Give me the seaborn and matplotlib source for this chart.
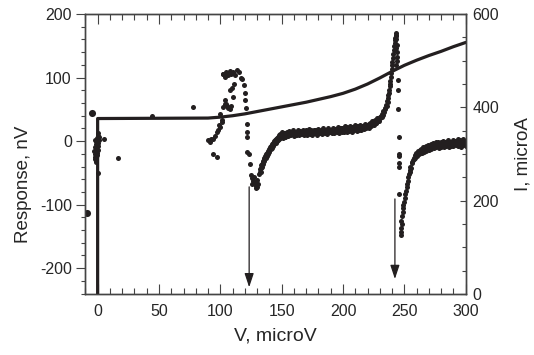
import numpy as np
import pandas as pd
import matplotlib
matplotlib.use("Agg")
import matplotlib.pyplot as plt
from matplotlib.ticker import MultipleLocator
import seaborn as sns

# ---------------- data ----------------
# large isolated dots near V = 0
big_v = [-8.5, -5.0]
big_r = [-113, 44]

# scattered points near V = 0 and in the low-bias region
near0_v = [-3.0, -2.5, -2.0, -1.5, -1.0, -0.5, 0.0, -1.0, -2.0, -1.5, -0.5, 0.5, 1.0, 0.0, 0.5,
           -0.5, -2.5, 1.5, 5.0, 0.0, 16.8, 44.5, 78.0, -1.0, 0.5, -2.0]
near0_r = [-15, -20, -10, -5, 0, 5, -8, -12, -25, -30, -18, -3, 2, 8, 12,
           -22, -28, 6, 3, -50, -27, 39, 54, -33, -14, 2]

# first feature (V ~ 90 .. 132)
f1_v = [90.2, 91.5, 92.5, 94.2, 95.5, 97.0, 98.0, 99.1, 99.7, 101.0, 93.7, 97.0,
        99.7, 101.0, 102.4, 103.7, 105.6, 107.8, 104.5, 106.5, 108.5, 103.7, 102.0, 107.8,
        109.7, 110.5, 111.5, 101.9, 103.5, 105.0, 106.5, 107.8, 109.0, 110.5, 112.0, 113.8,
        115.5, 116.6, 117.4, 119.5, 120.0, 120.0, 120.8, 121.4, 121.4, 121.4, 122.0, 123.3,
        124.0, 125.0, 126.0, 126.8, 127.5, 128.2, 129.0, 129.6, 130.3, 131.0, 125.8, 128.8]
f1_r = [1, -2, 3, 4, 8, 14, 18, 25, 22, 33, -20, -25,
        43, 30, 54, 64, 55, 51, 58, 52, 56, 59, 105, 81,
        83, 70, 90, 105, 101, 108, 104, 110, 106, 108, 104, 112,
        109, 100, 98, 88, 76, 64, 52, 27, 14, 6, -17, -21,
        -36, -54, -58, -62, -56, -66, -70, -61, -73, -67, -68, -74]

# recovery after first feature (V ~ 131 .. 150)
r1_v = [131.5, 132.0, 132.5, 133.0, 133.5, 134.0, 134.5, 135.0, 135.5, 136.0, 136.5, 137.0,
        137.5, 138.0, 138.5, 139.0, 139.5, 140.0, 140.5, 141.0, 141.5, 142.0, 142.5, 143.0,
        143.5, 144.0, 144.5, 145.0, 145.5, 146.0, 146.5, 147.0, 147.5, 148.0, 148.5, 149.0,
        149.5, 133.0, 134.0, 135.0, 136.0, 137.0, 138.0, 139.0, 140.0, 141.0, 142.0, 143.0,
        144.0, 145.0, 146.0, 147.0, 148.0, 149.0]
r1_r = [-52, -48, -44, -42, -38, -36, -33, -31, -28, -27, -24, -22,
        -21, -19, -17, -15, -14, -12, -10, -9, -8, -6, -5, -3,
        -2, 0, 1, 2, 3, 5, 4, 7, 6, 9, 8, 11,
        7, -48, -41, -36, -32, -27, -24, -20, -17, -13, -11, -8,
        -5, -3, 0, 2, 4, 5]

# plateau between the features (V = 150 .. 229)
pa_v = list(range(150, 230))
pa_r = [14, 5, 12, 7, 15, 8, 16, 9, 13, 17,
        8, 15, 10, 18, 9, 16, 11, 18, 9, 15,
        17, 10, 19, 11, 16, 9, 18, 12, 17, 10,
        19, 12, 18, 11, 20, 13, 17, 11, 20, 14,
        18, 12, 21, 13, 19, 14, 22, 13, 20, 15,
        21, 14, 23, 15, 20, 16, 24, 15, 22, 17,
        25, 16, 23, 18, 26, 17, 24, 19, 27, 20,
        26, 21, 29, 23, 31, 25, 33, 28, 36, 32]
pb_v = [v + 0.5 for v in range(150, 230)]
pb_r = [8, 12, 7, 13, 10, 14, 9, 15, 11, 13,
        15, 10, 14, 12, 16, 11, 15, 13, 16, 11,
        13, 16, 12, 17, 13, 16, 12, 18, 13, 17,
        14, 16, 13, 18, 14, 18, 13, 17, 14, 18,
        15, 19, 15, 19, 16, 19, 16, 20, 17, 21,
        17, 20, 18, 22, 17, 21, 19, 22, 18, 22,
        19, 23, 20, 22, 21, 24, 21, 24, 22, 26,
        23, 27, 25, 28, 27, 31, 29, 33, 31, 36]

# second feature rise and peak (V ~ 230 .. 244)
f2_v = [229.8, 230.5, 231.0, 231.5, 232.0, 232.5, 233.0, 233.5, 234.0, 234.5, 235.0, 235.5,
        236.0, 236.3, 236.7, 237.0, 237.3, 237.7, 238.0, 238.3, 238.6, 239.0, 239.3, 239.6,
        240.0, 240.3, 240.6, 241.0, 241.3, 241.6, 242.0, 242.3, 242.6, 242.9, 243.2, 243.5,
        243.4, 243.6, 243.5, 243.7, 243.6, 243.8, 243.4]
f2_r = [38, 36, 40, 38, 43, 41, 47, 46, 52, 50, 57, 56,
        63, 61, 68, 72, 76, 80, 86, 90, 95, 101, 107, 113,
        119, 125, 131, 137, 143, 149, 154, 159, 163, 167, 170, 165,
        160, 152, 146, 140, 133, 126, 120]

# second feature fall, minimum and recovery (V ~ 245 .. 254)
d2_v = [245.0, 245.0, 245.0, 245.5, 245.5, 245.5, 245.8, 245.8, 245.8,
        247.5, 247.6, 247.5, 247.7, 247.6, 248.3, 248.8, 248.6, 249.0, 249.8,
        250.4, 250.8, 251.3, 251.8, 252.3, 252.8, 253.2, 253.8, 254.2]
d2_r = [96, 80, 51, 6, -20, -24, -35, -41, -83,
        -148, -143, -137, -131, -125, -118, -112, -106, -101, -96,
        -90, -84, -78, -73, -67, -62, -57, -52, -48]

# plateau after the second feature (V = 255 .. 300)
pc_v = list(range(255, 301))
pc_r = [-40, -35, -30, -28, -22, -24, -17, -21, -14, -19,
        -12, -17, -10, -15, -8, -14, -7, -12, -6, -11,
        -5, -10, -4, -11, -6, -9, -3, -10, -5, -8,
        -2, -9, -4, -7, -1, -8, -3, -6, 0, -7,
        -2, -9, -4, -6, -3, -8]
pd_v = [v + 0.5 for v in range(254, 300)]
pd_r = [-46, -42, -33, -26, -27, -19, -22, -15, -18, -12,
        -16, -9, -14, -8, -12, -6, -11, -4, -9, -3,
        -8, -2, -7, -1, -8, -2, -6, 0, -7, -1,
        -6, 1, -5, -1, -5, 2, -4, 0, -3, 3,
        -4, 1, -5, 4, -3, -1]

# current (right axis)
iv_v = [0, 0, 90, 100, 110, 120, 130, 140, 150, 160, 170, 180, 190, 200,
        210, 220, 230, 240, 250, 260, 270, 280, 290, 300]
iv_i = [0, 376, 377, 379, 382, 386, 391, 396, 401, 406, 411, 417, 423, 430,
        439, 450, 463, 477, 490, 501, 511, 520, 530, 539]

# arrows (response units)
arrow_x = [123.5, 242.3]
arrow_top = [-72, -91]
arrow_tip = [-230, -217]

x_ticks = [0, 50, 100, 150, 200, 250, 300]
y_ticks = [-200, -100, 0, 100, 200]
y2_ticks = [0, 200, 400, 600]

# ---------------- plot ----------------
sns.set_style("ticks")
plt.rcParams["font.family"] = ["Liberation Sans", "DejaVu Sans"]
plt.rcParams["axes.unicode_minus"] = False

ink = "#231f20"

fig = plt.figure(figsize=(5.34, 3.55), dpi=100)
ax = fig.add_axes([85 / 534, 1 - 294 / 355, (465.7 - 85) / 534, (294 - 14) / 355])

small = pd.DataFrame({
    "V": near0_v + f1_v + r1_v + pa_v + pb_v + f2_v + d2_v + pc_v + pd_v,
    "R": near0_r + f1_r + r1_r + pa_r + pb_r + f2_r + d2_r + pc_r + pd_r,
})
large = pd.DataFrame({"V": big_v, "R": big_r})

sns.scatterplot(data=small, x="V", y="R", s=13, color=ink, linewidth=0, ax=ax, zorder=3)
sns.scatterplot(data=large, x="V", y="R", s=26, color=ink, linewidth=0, ax=ax, zorder=3)

for x, y0, y1 in zip(arrow_x, arrow_top, arrow_tip):
    ax.annotate("", xy=(x, y1), xytext=(x, y0),
                arrowprops=dict(arrowstyle="-|>,head_length=0.6,head_width=0.2",
                                color=ink, lw=0.9, mutation_scale=14,
                                shrinkA=0, shrinkB=0))

ax.set_xlim(-10.3, 300)
ax.set_ylim(-240.6, 200)
ax.set_xticks(x_ticks)
ax.set_yticks(y_ticks)
ax.xaxis.set_minor_locator(MultipleLocator(10))
ax.yaxis.set_minor_locator(MultipleLocator(20))
ax.tick_params(axis="x", which="both", direction="in", top=True, bottom=True,
               labelsize=11.5, pad=7, color="#444444")
ax.tick_params(axis="x", which="major", length=7.5, width=0.8)
ax.tick_params(axis="x", which="minor", length=4, width=0.8)
ax.tick_params(axis="y", which="both", direction="out", labelsize=11.5, pad=3, color="#444444")
ax.tick_params(axis="y", which="major", length=6.5, width=0.8)
ax.tick_params(axis="y", which="minor", length=3, width=0.8)
ax.set_xlabel("V, microV", fontsize=14, labelpad=6)
ax.set_ylabel("Response, nV", fontsize=13.5)
ax.yaxis.set_label_coords(-0.14, 0.39)

ax2 = ax.twinx()
sns.lineplot(x=iv_v, y=iv_i, sort=False, estimator=None, color=ink, lw=2.3, ax=ax2)
ax2.set_ylim(0, 600)
ax2.set_yticks(y2_ticks)
ax2.yaxis.set_minor_locator(MultipleLocator(50))
ax2.tick_params(axis="y", which="both", direction="in", labelsize=11.5, pad=5, color="#444444")
ax2.tick_params(axis="y", which="major", length=4, width=0.8)
ax2.tick_params(axis="y", which="minor", length=3, width=0.8)
ax2.set_ylabel("I, microA", fontsize=13.5, labelpad=11)

for a in (ax, ax2):
    for s in a.spines.values():
        s.set_linewidth(1.0)
        s.set_color("#444444")
        s.set_visible(True)

fig.savefig("out.png", dpi=100)
